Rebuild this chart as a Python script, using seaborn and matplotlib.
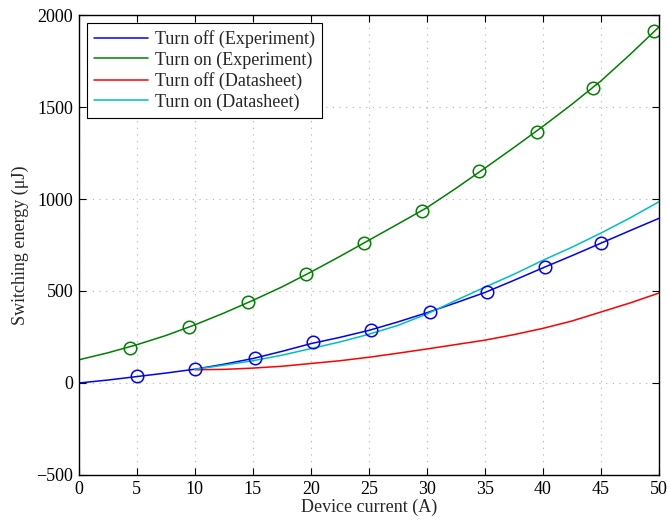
import matplotlib
matplotlib.use("Agg")
import matplotlib.pyplot as plt
import seaborn as sns

# Measured switching energy curves (device current in A, energy in uJ)
x_exp = [0, 2.5, 5, 7.5, 10, 12.5, 15, 17.5, 20, 22.5, 25, 27.5, 30,
         32.5, 35, 37.5, 40, 42.5, 45, 47.5, 50]
turn_off_exp = [0, 16, 35, 54, 75, 102, 133, 172, 214, 248, 286, 332, 382,
                436, 492, 558, 626, 692, 760, 828, 895]
turn_on_exp = [126, 164, 208, 258, 316, 380, 449, 522, 603, 688, 776, 864, 953,
               1058, 1168, 1280, 1395, 1515, 1642, 1785, 1935]

# Measurement points marked on the experiment curves
off_pts_x = [5.0, 10.0, 15.2, 20.2, 25.2, 30.3, 35.2, 40.2, 45.0]
off_pts_y = [36, 74, 134, 221, 286, 385, 494, 631, 761]
on_pts_x = [4.4, 9.5, 14.6, 19.6, 24.6, 29.6, 34.5, 39.5, 44.3, 49.6]
on_pts_y = [191, 307, 438, 593, 763, 937, 1151, 1365, 1604, 1913]

# Datasheet curves
x_ds = [10, 12.5, 15, 17.5, 20, 22.5, 25, 27.5, 30, 32.5, 35, 37.5, 40,
        42.5, 45, 47.5, 50]
turn_off_ds = [72, 74, 81, 91, 106, 121, 140, 162, 185, 209, 233, 263, 297,
               337, 386, 435, 489]
turn_on_ds = [74, 97, 121, 151, 187, 223, 265, 313, 375, 449, 521, 591, 667,
              738, 815, 897, 985]

sns.set_theme(style="white")
plt.rcParams["font.family"] = ["Liberation Serif", "DejaVu Serif"]

fig = plt.figure(figsize=(6.68, 5.21), dpi=100)
ax = fig.add_axes([0.118, 0.0883, 0.8685, 0.8829])

blue = (0, 0, 1)
green = (0, 0.5, 0)
red = (1, 0, 0)
cyan = (0, 0.75, 0.75)

lw = 1.1
sns.lineplot(x=x_exp, y=turn_off_exp, ax=ax, color=blue, lw=lw,
             label="Turn off (Experiment)", sort=False)
sns.lineplot(x=x_exp, y=turn_on_exp, ax=ax, color=green, lw=lw,
             label="Turn on (Experiment)", sort=False)
sns.lineplot(x=x_ds, y=turn_off_ds, ax=ax, color=red, lw=lw,
             label="Turn off (Datasheet)", sort=False)
sns.lineplot(x=x_ds, y=turn_on_ds, ax=ax, color=cyan, lw=lw,
             label="Turn on (Datasheet)", sort=False)

sns.lineplot(x=off_pts_x, y=off_pts_y, ax=ax, linestyle="", marker="o",
             markersize=9, markerfacecolor="none", markeredgecolor=blue,
             markeredgewidth=1.1, color=blue, label="_nolegend_", sort=False)
sns.lineplot(x=on_pts_x, y=on_pts_y, ax=ax, linestyle="", marker="o",
             markersize=9, markerfacecolor="none", markeredgecolor=green,
             markeredgewidth=1.1, color=green, label="_nolegend_", sort=False)

ax.set_xlim(0, 50)
ax.set_ylim(-500, 2000)
ax.set_xticks(range(0, 51, 5))
ax.set_yticks(range(-500, 2001, 500))

fs = 13
ax.set_xlabel("Device current (A)", fontsize=fs, labelpad=1)
ax.set_ylabel("Switching energy (\u03bcJ)", fontsize=fs, labelpad=5)
ax.tick_params(axis="both", which="major", labelsize=fs, direction="in",
               length=5, width=0.8, top=True, right=True, bottom=True,
               left=True, pad=4, colors="black")
ax.grid(True, linestyle=(0, (1, 5)), color="#b0b0b0", linewidth=0.8)
for s in ax.spines.values():
    s.set_color("black")
    s.set_linewidth(1.0)

leg = ax.legend(loc="upper left", fontsize=fs, frameon=True, fancybox=False,
                edgecolor="black", framealpha=1, borderaxespad=0.45,
                handlelength=3.0, handletextpad=0.35, borderpad=0.4,
                labelspacing=0.18)
leg.get_frame().set_linewidth(0.8)

fig.savefig("out.png", dpi=100)
